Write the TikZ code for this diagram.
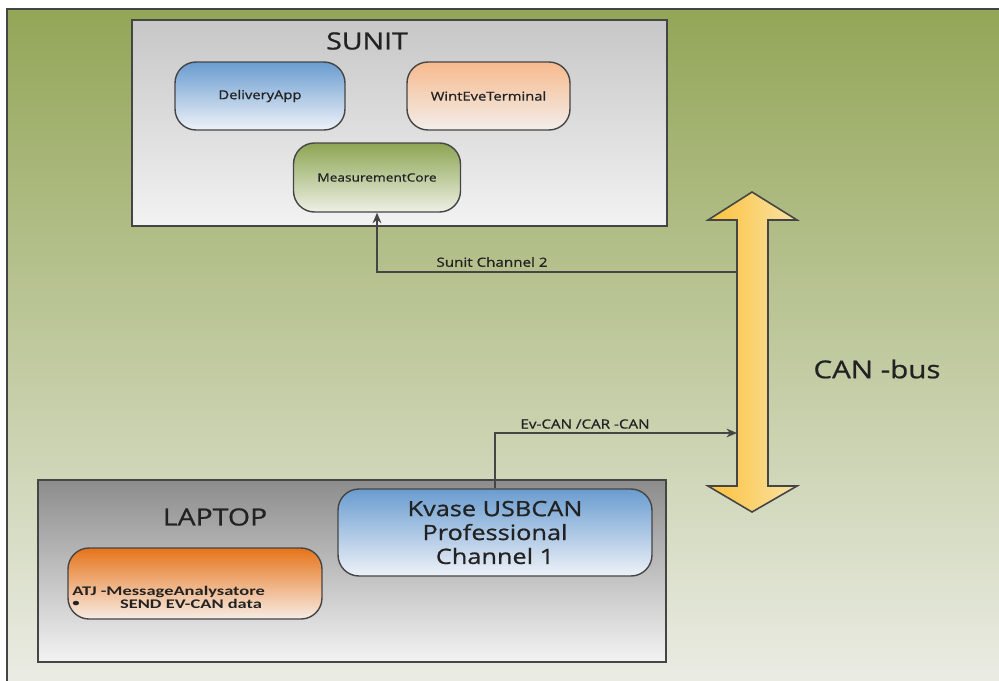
\documentclass[tikz,border=0pt]{standalone}
\usepackage{fontspec}
\setmainfont[FakeStretch=1.2]{Open Sans}
\newfontfamily\semifont[FakeStretch=1.2,FakeBold=0.8]{Open Sans}
\newfontfamily\calfont[FakeStretch=1.4]{Carlito}
\usetikzlibrary{arrows.meta}
\definecolor{bgtop}{HTML}{93A657}
\definecolor{bgbot}{HTML}{ECEDE6}
\definecolor{edge}{HTML}{454545}
\definecolor{ink}{HTML}{222222}
\definecolor{bluetop}{HTML}{6A9CD0}
\definecolor{bluebot}{HTML}{EEF2F8}
\definecolor{peachtop}{HTML}{F6BA8E}
\definecolor{peachbot}{HTML}{F3EEEA}
\definecolor{greentop}{HTML}{8CA552}
\definecolor{greenbot}{HTML}{EEF0E6}
\definecolor{orangetop}{HTML}{E6741A}
\definecolor{orangebot}{HTML}{F7ECE4}
\definecolor{busleft}{HTML}{FCC23A}
\definecolor{busright}{HTML}{F9E2A6}
\tikzset{
	unitbox/.style={draw=edge, line width=0.9pt, inner sep=0pt},
	appbox/.style={draw=edge, line width=0.8pt, rounded corners=0.42cm, inner sep=0pt, text=ink, font=\semifont\fontsize{7}{9}\selectfont},
	title/.style={text=ink, font=\semifont\fontsize{13.5}{16}\selectfont},
	lbl/.style={text=ink, font=\semifont\fontsize{7.2}{8}\selectfont},
	conn/.style={draw=edge, line width=0.8pt, -{Stealth[length=6pt,width=5pt]}}
}
\begin{document}
\begin{tikzpicture}[x=0.02cm,y=-0.02cm]
		\useasboundingbox (0,0) rectangle (999,680);
		\fill[white] (0,0) rectangle (999,680);
		\draw[draw=edge, line width=1.4pt, top color=bgtop, bottom color=bgbot] (7,9) rectangle (1010,692);

		\node[unitbox, top color=black!22, bottom color=black!5, minimum width=10.7cm, minimum height=4.12cm] (sunit) at (399.5,123) {};
		\node[title] (sunittitle) at (367,41) {SUNIT};
		\node[appbox, top color=bluetop, bottom color=bluebot, minimum width=3.4cm, minimum height=1.36cm] (delivery) at (260,96) {DeliveryApp};
		\node[appbox, top color=peachtop, bottom color=peachbot, minimum width=3.26cm, minimum height=1.36cm] (wint) at (488.5,96) {WintEveTerminal};
		\node[appbox, top color=greentop, bottom color=greenbot, minimum width=3.34cm, minimum height=1.38cm, font=\semifont\fontsize{6.5}{8}\selectfont] (meas) at (377,177.5) {MeasurementCore};

		\node[unitbox, top color=black!45, bottom color=black!5, minimum width=12.56cm, minimum height=3.64cm] (laptop) at (352,571) {};
		\node[title] (laptoptitle) at (215,517) {LAPTOP};
		\node[appbox, top color=bluetop, bottom color=bluebot, minimum width=6.28cm, minimum height=1.74cm, align=center, font=\semifont\fontsize{12}{13.6}\selectfont] (kvase) at (495,532.5) {Kvase USBCAN\\Professional\\Channel 1};
		\node[appbox, top color=orangetop, bottom color=orangebot, minimum width=5.08cm, minimum height=1.42cm] (atj) at (195,583.5) {};
		\node[anchor=west, align=left, inner sep=0pt, text=ink, font=\calfont\bfseries\fontsize{7.5}{7.5}\selectfont] (atjtext) at (72,597) {ATJ -MessageAnalysatore\\\raisebox{1.2pt}{\scalebox{0.8}{\textbullet}}\hspace{23pt}SEND EV-CAN data};

		\draw[draw=edge, line width=0.9pt, left color=busleft, right color=busright]
			(752,192) -- (797,220) -- (768,220) -- (768,486) -- (797,486) -- (752,512)
			-- (708,486) -- (737,486) -- (737,220) -- (708,220) -- cycle;
		\coordinate (bus2) at (737,272);
		\coordinate (bus1) at (737,433);
		\node[text=ink, font=\semifont\fontsize{14}{16}\selectfont] (canbus) at (877,369) {CAN -bus};

		\draw[conn] (bus2) -| (meas.south);
		\node[lbl] (ch2) at (492,262) {Sunit Channel 2};
		\draw[conn] (kvase.north) |- (bus1);
		\node[lbl] (evcan) at (585,424) {Ev-CAN /CAR -CAN};
\end{tikzpicture}
\end{document}
